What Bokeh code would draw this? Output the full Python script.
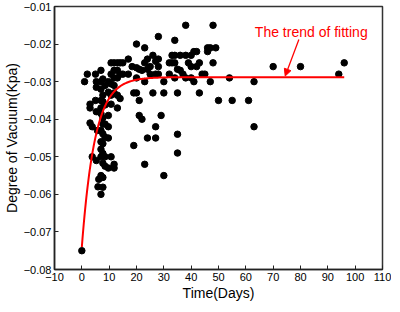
import numpy as np
from bokeh.plotting import figure
from bokeh.models import Range1d, FixedTicker, CustomJSTickFormatter, Arrow, NormalHead, Label
from bokeh.embed import file_html
from bokeh.resources import INLINE

# ---- data ----
days = [0, 1, 2, 3, 3, 3, 3.8, 3.8,
        5, 5.3, 5.3, 5, 5.3, 5.7, 5.3, 5.9, 6.2,
        7, 7, 7, 7, 7, 7, 7, 7, 7, 7, 7, 7,
        7.7, 7.7, 7.7, 7.7, 7.7, 7.7, 7.7, 7.7, 7.7, 7.7, 7.7,
        8.5, 8.5, 8.5, 8.5, 8.5, 8.5,
        9.7, 9.7, 9.7, 9.7, 9.7, 9.7,
        10.7, 10.7, 10.7, 10.7, 10.7, 10.7,
        11.8, 11.8, 11.8, 11.8, 11.8, 11.8, 11.8,
        13, 13, 13, 13, 13,
        14, 14, 14, 15, 15, 17, 17,
        18.4, 19, 19, 20, 20, 20, 20, 21, 21, 21, 22, 22,
        23, 23, 23, 23, 24, 24, 24, 25, 25, 26, 26,
        27, 27, 27, 27, 28, 28, 28, 28, 29, 30, 30, 30,
        32, 32, 33, 33, 34, 34, 34, 34, 35, 35, 35, 35,
        36, 36, 37, 38, 38, 38, 39, 40, 40, 40, 41, 41, 42, 42,
        43, 43, 44, 45, 46, 46, 47, 47, 48, 48, 49,
        50, 54, 55, 61, 63, 63, 70, 80, 94, 96]
vacuum = [-0.075, -0.030, -0.028, -0.036, -0.037, -0.041, -0.042, -0.050,
          -0.028, -0.030, -0.0315, -0.035, -0.038, -0.043, -0.051, -0.058, -0.056,
          -0.027, -0.030, -0.032, -0.035, -0.037, -0.0385, -0.043, -0.046, -0.048, -0.050, -0.055, -0.060,
          -0.0293, -0.0336, -0.0353, -0.0396, -0.0413, -0.0439, -0.0465, -0.0491, -0.0517, -0.0555, -0.0581,
          -0.031, -0.0362, -0.0413, -0.0448, -0.050, -0.0525,
          -0.030, -0.0328, -0.039, -0.042, -0.045, -0.053,
          -0.025, -0.028, -0.0306, -0.0336, -0.036, -0.050,
          -0.025, -0.027, -0.029, -0.031, -0.033, -0.052, -0.053,
          -0.025, -0.027, -0.029, -0.0336, -0.037,
          -0.025, -0.028, -0.0345, -0.025, -0.028, -0.024, -0.028,
          -0.026, -0.033, -0.047, -0.020, -0.0263, -0.029, -0.033, -0.0267, -0.035, -0.039, -0.027, -0.040,
          -0.021, -0.025, -0.030, -0.052, -0.024, -0.0267, -0.045, -0.026, -0.028, -0.023, -0.033,
          -0.0246, -0.028, -0.042, -0.045, -0.018, -0.024, -0.026, -0.028, -0.039, -0.030, -0.033, -0.055,
          -0.025, -0.028, -0.023, -0.025, -0.019, -0.023, -0.025, -0.029, -0.0267, -0.033, -0.044, -0.049,
          -0.023, -0.027, -0.028, -0.015, -0.023, -0.029, -0.025, -0.023, -0.026, -0.029, -0.022, -0.030, -0.022, -0.026,
          -0.025, -0.033, -0.028, -0.028, -0.021, -0.022, -0.030, -0.021, -0.015, -0.025, -0.021,
          -0.035, -0.029, -0.035, -0.035, -0.030, -0.042, -0.026, -0.026, -0.028, -0.025]

x_ticks = [-10, 0, 10, 20, 30, 40, 50, 60, 70, 80, 90, 100, 110]
y_ticks = [-0.08, -0.07, -0.06, -0.05, -0.04, -0.03, -0.02, -0.01]

# fitted trend (exponential approach to a plateau)
fit_plateau = -0.0288
fit_amplitude = 0.0452
fit_tau = 4.8
fit_start, fit_end = 0, 96

annotation_text = "The trend of fitting"

FONT = "Liberation Sans"

p = figure(frame_width=328, frame_height=263, output_backend="svg", toolbar_location=None,
           x_range=Range1d(-10, 110), y_range=Range1d(-0.08, -0.01),
           min_border_left=0, min_border_right=9, min_border_top=6, min_border_bottom=0)
p.grid.visible = False
p.background_fill_color = "white"
p.border_fill_color = "white"
p.outline_line_color = "#333333"
p.outline_line_width = 1.5

for ax in (p.xaxis[0], p.yaxis[0]):
    ax.axis_line_color = "#222222"
    ax.axis_line_width = 1.5
    ax.major_tick_in = 4
    ax.major_tick_out = 0
    ax.major_tick_line_color = "#222222"
    ax.major_tick_line_width = 1
    ax.minor_tick_line_color = None
    ax.major_label_text_font = FONT
    ax.major_label_text_font_size = "11px"
    ax.major_label_text_color = "black"
    ax.axis_label_text_font = FONT
    ax.axis_label_text_font_style = "normal"
    ax.axis_label_text_font_size = "14px"
    ax.axis_label_text_color = "black"
    ax.major_label_standoff = 3
    ax.axis_label_standoff = 1

p.xaxis.ticker = FixedTicker(ticks=x_ticks)
p.yaxis.ticker = FixedTicker(ticks=y_ticks)
p.xaxis.formatter = CustomJSTickFormatter(code="return tick.toFixed(0).replace('-', '\\u2212');")
p.yaxis.formatter = CustomJSTickFormatter(code="return tick.toFixed(2).replace('-', '\\u2212');")
p.xaxis.axis_label = "Time(Days)"
p.yaxis.axis_label = "Degree of Vacuum(Kpa)"

p.scatter(days, vacuum, size=6.5, color="black")

t = np.linspace(fit_start, fit_end, 400)
yfit = fit_plateau - fit_amplitude * np.exp(-t / fit_tau)
p.line(t, yfit, line_color="red", line_width=2)

p.add_layout(Label(x=63.3, y=-0.0167, text=annotation_text, text_color="red",
                   text_font=FONT, text_font_size="14px", text_baseline="middle"))
p.add_layout(Arrow(end=NormalHead(size=7, fill_color="red", line_color="red", line_width=1),
                   x_start=79.4, y_start=-0.0188, x_end=74.4, y_end=-0.0285,
                   line_color="red", line_width=1.3))

open("out.html", "w").write(file_html(p, INLINE))
